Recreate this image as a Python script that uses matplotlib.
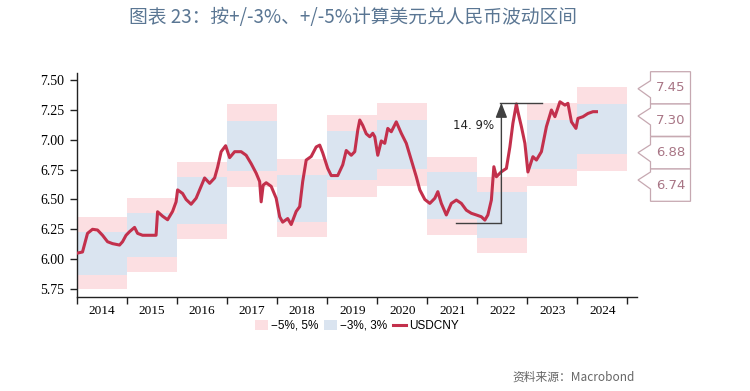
import matplotlib
matplotlib.use("Agg")
import matplotlib.pyplot as plt
from matplotlib.patches import Patch, Polygon
from matplotlib.lines import Line2D

# ---------------- data ----------------
years = [2014, 2015, 2016, 2017, 2018, 2019, 2020, 2021, 2022, 2023, 2024]
year_centers = [6.05, 6.20, 6.49, 6.95, 6.51, 6.865, 6.96, 6.53, 6.37, 6.96, 7.09]

usd_dates = [2014.00, 2014.11, 2014.21, 2014.31, 2014.41, 2014.51, 2014.61, 2014.71, 2014.85, 2014.91,
             2014.98, 2015.05, 2015.15, 2015.21, 2015.31, 2015.45, 2015.58, 2015.61, 2015.71, 2015.81,
             2015.91, 2015.98, 2016.01, 2016.11, 2016.18, 2016.28, 2016.38, 2016.45, 2016.55, 2016.65,
             2016.75, 2016.81, 2016.88, 2016.97, 2017.05, 2017.15, 2017.28, 2017.38, 2017.48, 2017.58,
             2017.65, 2017.68, 2017.72, 2017.78, 2017.88, 2017.98, 2018.05, 2018.11, 2018.21, 2018.28,
             2018.38, 2018.45, 2018.51, 2018.58, 2018.68, 2018.78, 2018.85, 2018.91, 2019.01, 2019.08,
             2019.21, 2019.31, 2019.38, 2019.48, 2019.55, 2019.61, 2019.65, 2019.71, 2019.78, 2019.85,
             2019.91, 2019.95, 2020.01, 2020.08, 2020.15, 2020.21, 2020.28, 2020.38, 2020.48, 2020.58,
             2020.68, 2020.78, 2020.85, 2020.95, 2021.05, 2021.15, 2021.21, 2021.28, 2021.38, 2021.48,
             2021.58, 2021.68, 2021.78, 2021.88, 2021.98, 2022.08, 2022.15, 2022.21, 2022.28, 2022.33,
             2022.38, 2022.48, 2022.58, 2022.65, 2022.71, 2022.78, 2022.81, 2022.88, 2022.95, 2023.01,
             2023.11, 2023.18, 2023.28, 2023.38, 2023.48, 2023.55, 2023.65, 2023.75, 2023.81, 2023.88,
             2023.97, 2024.01, 2024.11, 2024.21, 2024.31, 2024.38]
usd_values = [6.05, 6.06, 6.216, 6.25, 6.244, 6.20, 6.146, 6.13, 6.118, 6.146,
              6.20, 6.23, 6.266, 6.216, 6.20, 6.20, 6.20, 6.397, 6.36, 6.33,
              6.40, 6.48, 6.58, 6.55, 6.50, 6.46, 6.51, 6.58, 6.68, 6.635,
              6.68, 6.77, 6.90, 6.95, 6.85, 6.90, 6.90, 6.87, 6.80, 6.72,
              6.65, 6.48, 6.62, 6.64, 6.61, 6.51, 6.355, 6.31, 6.34, 6.29,
              6.40, 6.44, 6.65, 6.83, 6.86, 6.94, 6.955, 6.89, 6.76, 6.70,
              6.70, 6.79, 6.91, 6.87, 6.90, 7.08, 7.165, 7.12, 7.05, 7.025,
              7.054, 7.025, 6.87, 6.99, 6.97, 7.095, 7.067, 7.15, 7.054, 6.97,
              6.83, 6.69, 6.58, 6.50, 6.467, 6.51, 6.565, 6.467, 6.37, 6.467,
              6.495, 6.467, 6.41, 6.384, 6.37, 6.355, 6.327, 6.37, 6.495, 6.774,
              6.69, 6.732, 6.76, 6.94, 7.137, 7.30, 7.235, 7.11, 6.97, 6.73,
              6.858, 6.83, 6.90, 7.11, 7.249, 7.193, 7.318, 7.29, 7.305, 7.15,
              7.095, 7.179, 7.193, 7.22, 7.235, 7.235]

y_ticks = [5.75, 6.00, 6.25, 6.50, 6.75, 7.00, 7.25, 7.50]
callout_labels = ["7.45", "7.30", "6.88", "6.74"]

# annotation of 2022 move
ann_low, ann_high = 6.305, 7.31
ann_low_start, ann_x, ann_high_end = 2021.57, 2022.48, 2023.30
ann_label = "14. 9%"

title = "图表 23：按+/-3%、+/-5%计算美元兑人民币波动区间"
source = "资料来源：Macrobond"

# ---------------- style ----------------
pink = "#fcdfe2"
blue = "#dae4f0"
line_col = "#c3304c"
W, H = 750, 391

fig = plt.figure(figsize=(7.5, 3.91), dpi=100)
ax = fig.add_axes([77 / W, 1 - 297 / H, (637 - 77) / W, (297 - 73) / H])

# bands
for yr, c in zip(years, year_centers):
    ax.fill_between([yr, yr + 1], [c * 0.95] * 2, [c * 1.05] * 2, color=pink, lw=0, zorder=1)
    ax.fill_between([yr, yr + 1], [c * 0.97] * 2, [c * 1.03] * 2, color=blue, lw=0, zorder=2)

ax.plot(usd_dates, usd_values, color=line_col, lw=2.2, zorder=4, solid_joinstyle="round")

# annotation
ac = "#404040"
ax.plot([ann_low_start, ann_x], [ann_low, ann_low], color=ac, lw=1.0, zorder=5)
ax.plot([ann_x - 0.03, ann_high_end], [ann_high, ann_high], color=ac, lw=1.0, zorder=5)
ax.annotate("", xy=(ann_x, ann_high), xytext=(ann_x, ann_low),
            arrowprops=dict(arrowstyle="-|>,head_width=0.35,head_length=0.9", color=ac, lw=1.0,
                            shrinkA=0, shrinkB=0), zorder=5)
ax.text(ann_x - 0.15, 7.12, ann_label, ha="right", va="center", fontsize=8.5, color="#222222",
        family="DejaVu Sans")

ax.set_xlim(2014, 2025.19)
ax.set_ylim(5.683, 7.559)

ax.spines["top"].set_visible(False)
ax.spines["right"].set_visible(False)
for s in ("left", "bottom"):
    ax.spines[s].set_color("#222222")
    ax.spines[s].set_linewidth(1.0)

ax.set_yticks(y_ticks)
ax.set_yticklabels([f"{v:.2f}" for v in y_ticks], family="Liberation Serif", fontsize=10)
ax.tick_params(axis="y", direction="out", length=5, width=1, pad=4, color="#222222")

ax.set_xticks([y for y in years] + [years[-1] + 1])
ax.set_xticklabels([])
ax.set_xticks([y + 0.5 for y in years], minor=True)
ax.set_xticklabels([str(y) for y in years], minor=True, family="Liberation Serif", fontsize=9.5)
ax.tick_params(axis="x", which="major", direction="out", length=5, width=1, color="#222222")
ax.tick_params(axis="x", which="minor", length=0, pad=6)

# legend
handles = [Patch(facecolor=pink, edgecolor="none"),
           Patch(facecolor=blue, edgecolor="none"),
           Line2D([0], [0], color=line_col, lw=2.2)]
labels = ["−5%, 5%", "−3%, 3%", "USDCNY"]
fig.legend(handles, labels, loc="center", bbox_to_anchor=(357 / W, 1 - 326 / H), ncol=3,
           frameon=False, handlelength=1.1, handleheight=0.9, handletextpad=0.25, columnspacing=0.5,
           prop={"family": "Liberation Sans", "size": 8.5})

# callout boxes on the right
def fp(x, y):
    return (x / W, 1 - y / H)

box_left, box_right, tip_x = 650.5, 690.5, 638.0
box_tops = [71.7, 104.0, 136.7, 169.0]
box_h = 32.3
tip_off = [17, 12, 16, 11]
edge_col = "#c6a8b1"
for lbl, top, off in zip(callout_labels, box_tops, tip_off):
    bot = top + box_h
    ty = top + off
    pts = [fp(box_left, top), fp(box_right, top), fp(box_right, bot), fp(box_left, bot),
           fp(box_left, ty + 9), fp(tip_x, ty), fp(box_left, ty - 8)]
    fig.add_artist(Polygon(pts, closed=True, facecolor="white", edgecolor=edge_col, lw=0.9,
                           transform=fig.transFigure))
    fig.text((box_left + box_right) / 2 / W, 1 - (top + box_h / 2) / H, lbl, ha="center", va="center",
             fontsize=9.5, color="#a87585", family="DejaVu Sans")

fig.text(353 / W, 1 - 18 / H, title, ha="center", va="center", fontsize=13.5, color="#5a7693",
         family=["Noto Sans CJK SC", "DejaVu Sans"], weight="medium")
fig.text(512 / W, 1 - 377 / H, source, ha="left", va="center", fontsize=8.5, color="#666666",
         family=["Noto Sans CJK SC", "DejaVu Sans"])

fig.savefig("out.png", dpi=100)
